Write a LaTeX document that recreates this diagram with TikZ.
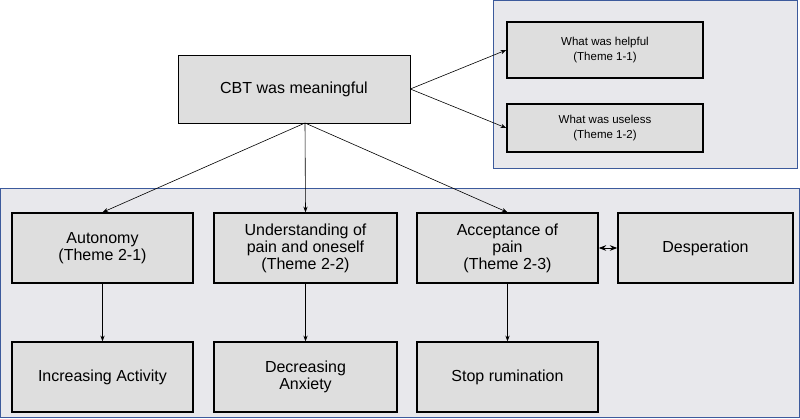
\documentclass[tikz,border=0pt]{standalone}
\usepackage{fontspec}
\setmainfont{Liberation Sans}
\usetikzlibrary{arrows.meta}
\definecolor{panelgray}{HTML}{E8E8EC}
\definecolor{boxgray}{HTML}{DEDEDE}
\definecolor{panelblue}{HTML}{3C5A9C}
\begin{document}
\begin{tikzpicture}[x=1pt,y=-1pt,line width=0.6pt]
		\tikzstyle{panel}=[draw=panelblue,fill=panelgray,line width=1pt]
		\tikzstyle{theme}=[draw=black,fill=boxgray,line width=1.4pt,align=center,inner sep=1pt,font=\fontsize{16}{17}\selectfont]
		\tikzstyle{small}=[theme,font=\fontsize{11.5}{15}\selectfont]
		\useasboundingbox (0,0) rectangle (800,418);
		\draw[panel] (493,0.5) rectangle (797,168);
		\draw[panel] (0.5,188) rectangle (799.5,417.5);
		\node[theme, line width=0.6pt, minimum width=232, minimum height=68] (cbt) at (294,89) {CBT was meaningful};
		\node[small, minimum width=196, minimum height=56] (help) at (605,50) {What was helpful\\(Theme 1-1)};
		\node[small, minimum width=196, minimum height=48] (use) at (605,128) {What was useless\\(Theme 1-2)};
		\node[theme, minimum width=181, minimum height=70] (auto) at (102.5,248) {Autonomy\\(Theme 2-1)};
		\node[theme, minimum width=183, minimum height=70] (under) at (305.5,248) {Understanding of\\pain and oneself\\(Theme 2-2)};
		\node[theme, minimum width=181, minimum height=70] (accept) at (507.5,248) {Acceptance of\\pain\\(Theme 2-3)};
		\node[theme, minimum width=175, minimum height=70] (desp) at (705.5,248) {Desperation};
		\node[theme, minimum width=181, minimum height=70] (act) at (102.5,377) {Increasing Activity};
		\node[theme, minimum width=183, minimum height=70] (anx) at (305.5,377) {Decreasing\\Anxiety};
		\node[theme, minimum width=181, minimum height=70] (rum) at (507.5,377) {Stop rumination};
		\draw[-Stealth] (cbt.east) -- (help.west);
		\draw[-Stealth] (cbt.east) -- (use.west);
		\draw[-Stealth] (305,123) -- (auto.north);
		\draw[-Stealth] (305,123) -- (under.north);
		\draw[-Stealth] (305,123) -- (accept.north);
		\draw[-Stealth] (auto) -- (act);
		\draw[-Stealth] (under) -- (anx);
		\draw[-Stealth] (accept) -- (rum);
		\draw[Stealth-Stealth,line width=1pt] (accept) -- (desp);
	\end{tikzpicture}
\end{document}
